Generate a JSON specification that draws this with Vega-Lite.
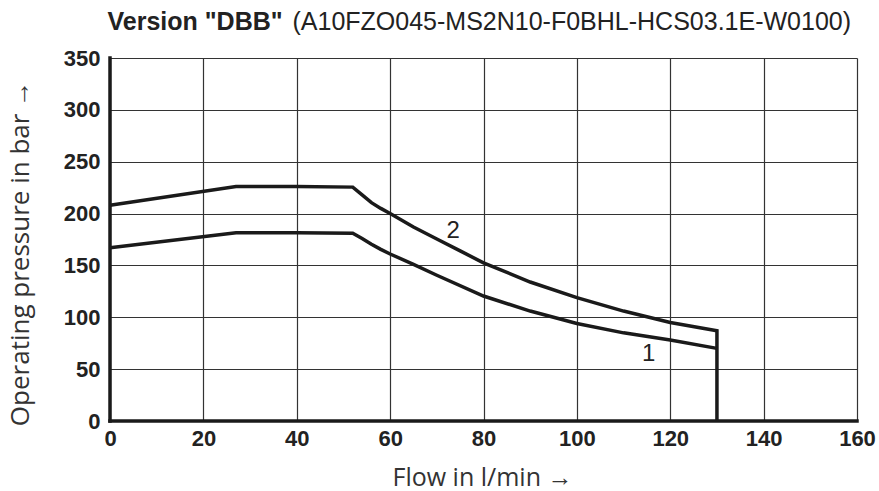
{
  "$schema": "https://vega.github.io/schema/vega-lite/v6.json",
  "width": 747,
  "height": 363,
  "autosize": {"type": "none"},
  "padding": {"left": 110, "top": 58, "right": 22, "bottom": 70},
  "background": "white",
  "config": {"view": {"stroke": null}},
  "resolve": {"axis": {"x": "independent", "y": "independent"}},
  "layer": [
    {
      "data": {"values": [
        {"curve": "2", "order": 1, "flow": 0, "pressure": 208},
        {"curve": "2", "order": 2, "flow": 27, "pressure": 226},
        {"curve": "2", "order": 3, "flow": 40, "pressure": 226},
        {"curve": "2", "order": 4, "flow": 52, "pressure": 225.5},
        {"curve": "2", "order": 5, "flow": 54, "pressure": 218},
        {"curve": "2", "order": 6, "flow": 56, "pressure": 210.5},
        {"curve": "2", "order": 7, "flow": 58, "pressure": 205},
        {"curve": "2", "order": 8, "flow": 60, "pressure": 200},
        {"curve": "2", "order": 9, "flow": 65, "pressure": 187},
        {"curve": "2", "order": 10, "flow": 70, "pressure": 175.5},
        {"curve": "2", "order": 11, "flow": 75, "pressure": 164},
        {"curve": "2", "order": 12, "flow": 80, "pressure": 152.5},
        {"curve": "2", "order": 13, "flow": 90, "pressure": 134},
        {"curve": "2", "order": 14, "flow": 100, "pressure": 119},
        {"curve": "2", "order": 15, "flow": 110, "pressure": 106},
        {"curve": "2", "order": 16, "flow": 120, "pressure": 95},
        {"curve": "2", "order": 17, "flow": 130, "pressure": 87},
        {"curve": "2", "order": 18, "flow": 130, "pressure": 0},
        {"curve": "1", "order": 1, "flow": 0, "pressure": 167},
        {"curve": "1", "order": 2, "flow": 27, "pressure": 181.5},
        {"curve": "1", "order": 3, "flow": 40, "pressure": 181.5},
        {"curve": "1", "order": 4, "flow": 52, "pressure": 181},
        {"curve": "1", "order": 5, "flow": 54, "pressure": 176},
        {"curve": "1", "order": 6, "flow": 56, "pressure": 170.5},
        {"curve": "1", "order": 7, "flow": 58, "pressure": 165.5},
        {"curve": "1", "order": 8, "flow": 60, "pressure": 161},
        {"curve": "1", "order": 9, "flow": 65, "pressure": 151},
        {"curve": "1", "order": 10, "flow": 70, "pressure": 140.5},
        {"curve": "1", "order": 11, "flow": 80, "pressure": 120.5},
        {"curve": "1", "order": 12, "flow": 90, "pressure": 106},
        {"curve": "1", "order": 13, "flow": 100, "pressure": 94},
        {"curve": "1", "order": 14, "flow": 110, "pressure": 85},
        {"curve": "1", "order": 15, "flow": 120, "pressure": 78},
        {"curve": "1", "order": 16, "flow": 130, "pressure": 70}
      ]},
      "mark": {"type": "line", "color": "#1a1a1a", "strokeWidth": 3.5, "strokeJoin": "miter", "clip": false},
      "encoding": {
        "x": {
          "field": "flow", "type": "quantitative",
          "scale": {"domain": [0, 160], "nice": false, "zero": false},
          "axis": {
            "orient": "bottom",
            "values": [0, 20, 40, 60, 80, 100, 120, 140, 160],
            "grid": true, "gridColor": "#333333", "gridWidth": 1.2, "gridOpacity": 1,
            "domain": false,
            "ticks": false,
            "labelFont": "Liberation Sans", "labelFontSize": 22, "labelFontWeight": "bold",
            "labelColor": "#222222", "labelPadding": 7, "labelFlush": false, "labelOverlap": false,
            "title": "Flow in l/min →",
            "titleFont": "Open Sans", "titleFontSize": 25, "titleFontWeight": "normal",
            "titleColor": "#333333", "titleX": 372, "titleY": 64,
            "titleAlign": "center", "titleBaseline": "alphabetic"
          }
        },
        "y": {
          "field": "pressure", "type": "quantitative",
          "scale": {"domain": [0, 350], "nice": false, "zero": false},
          "axis": {
            "orient": "left",
            "values": [0, 50, 100, 150, 200, 250, 300, 350],
            "grid": true, "gridColor": "#333333", "gridWidth": 1.2, "gridOpacity": 1,
            "domain": false,
            "ticks": false,
            "labelFont": "Liberation Sans", "labelFontSize": 22, "labelFontWeight": "bold",
            "labelColor": "#222222", "labelPadding": 10, "labelOverlap": false,
            "title": "Operating pressure in bar →",
            "titleFont": "Open Sans", "titleFontSize": 26, "titleFontWeight": "normal",
            "titleColor": "#333333", "titleX": -82, "titleY": 195,
            "titleAngle": -90, "titleAlign": "center", "titleBaseline": "alphabetic"
          }
        },
        "detail": {"field": "curve", "type": "nominal"},
        "order": {"field": "order", "type": "quantitative"}
      }
    },
    {
      "data": {"values": [{"flowAxis": 0}]},
      "mark": {"type": "rule", "color": "#1a1a1a", "strokeWidth": 3.5, "strokeCap": "square"},
      "encoding": {
        "x": {"field": "flowAxis", "type": "quantitative", "axis": null}
      }
    },
    {
      "data": {"values": [{"pressureAxis": 0}]},
      "mark": {"type": "rule", "color": "#1a1a1a", "strokeWidth": 3.5, "strokeCap": "square"},
      "encoding": {
        "y": {"field": "pressureAxis", "type": "quantitative", "axis": null}
      }
    },
    {
      "data": {"values": [
        {"label": "2", "flow": 73.5, "pressure": 183},
        {"label": "1", "flow": 115.4, "pressure": 65}
      ]},
      "mark": {"type": "text", "font": "Liberation Sans", "fontSize": 24, "color": "#222222", "align": "center", "baseline": "middle"},
      "encoding": {
        "x": {
          "field": "flow", "type": "quantitative",
          "scale": {"domain": [0, 160], "nice": false, "zero": false},
          "axis": {
            "orient": "top", "labels": false, "ticks": false, "domain": false, "grid": false,
            "title": "Version \"DBB\"",
            "titleFont": "Liberation Sans", "titleFontSize": 25, "titleFontWeight": "bold",
            "titleColor": "#222222", "titleX": -3, "titleY": -29,
            "titleAlign": "left", "titleAnchor": "start", "titleBaseline": "alphabetic"
          }
        },
        "y": {
          "field": "pressure", "type": "quantitative",
          "scale": {"domain": [0, 350], "nice": false, "zero": false},
          "axis": {
            "orient": "right", "labels": false, "ticks": false, "domain": false, "grid": false,
            "title": "(A10FZO045-MS2N10-F0BHL-HCS03.1E-W0100)",
            "titleFont": "Liberation Sans", "titleFontSize": 25, "titleFontWeight": "normal",
            "titleColor": "#222222", "titleX": -565, "titleY": -29, "titleAngle": 0,
            "titleAlign": "left", "titleBaseline": "alphabetic"
          }
        },
        "text": {"field": "label", "type": "nominal"}
      }
    }
  ]
}
